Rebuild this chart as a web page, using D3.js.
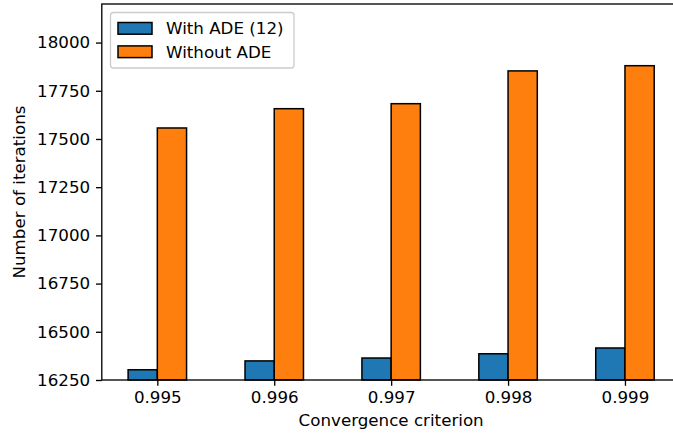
<!DOCTYPE html>
<html>
<head>
<meta charset="utf-8">
<script src="https://cdn.jsdelivr.net/npm/d3@7/dist/d3.min.js"></script>
<style>
  html, body { margin: 0; padding: 0; background: #fff; }
  svg { display: block; font-family: "DejaVu Sans", sans-serif; }
</style>
</head>
<body>
<svg id="chart" width="673" height="435"></svg>
<script>
// Iterations needed to converge, per convergence criterion
const criteria = ["0.995", "0.996", "0.997", "0.998", "0.999"];
const withADE = [16303, 16349, 16364, 16386, 16416];
const withoutADE = [17557, 17657, 17683, 17853, 17880];
const seriesNames = ["With ADE (12)", "Without ADE"];
const seriesColors = ["#1f77b4", "#ff7f0e"];
const yTicks = [16250, 16500, 16750, 17000, 17250, 17500, 17750, 18000];

const svg = d3.select("#chart");
const fontSize = 16.7;

const plot = { left: 101.8, right: 680.5, top: 4, bottom: 380 };
const barWidth = 0.25;

const x = d3.scaleLinear()
  .domain([-0.475, criteria.length - 1 + 0.475])
  .range([plot.left, plot.right]);
const y = d3.scaleLinear()
  .domain([16250, 18200])
  .range([plot.bottom, plot.top]);

const series = [withADE, withoutADE];

// Bars: first series left of the tick, second series right of it
series.forEach((vals, s) => {
  svg.append("g")
    .selectAll("rect")
    .data(vals)
    .join("rect")
    .attr("x", (d, i) => x(i + (s === 0 ? -barWidth : 0)))
    .attr("y", d => y(d))
    .attr("width", x(barWidth) - x(0))
    .attr("height", d => y(16250) - y(d))
    .attr("fill", seriesColors[s])
    .attr("stroke", "#000")
    .attr("stroke-width", 1.5);
});

// Axes
const xAxis = d3.axisBottom(x)
  .tickValues(d3.range(criteria.length))
  .tickFormat(i => criteria[i])
  .tickSize(5.8)
  .tickPadding(5.8)
  .tickSizeOuter(0);
const yAxis = d3.axisLeft(y)
  .tickValues(yTicks)
  .tickFormat(d3.format("d"))
  .tickSize(5.8)
  .tickPadding(5.8)
  .tickSizeOuter(0);

const gx = svg.append("g")
  .attr("transform", `translate(0,${plot.bottom})`)
  .call(xAxis);
const gy = svg.append("g")
  .attr("transform", `translate(${plot.left},0)`)
  .call(yAxis);

[gx, gy].forEach(g => {
  g.select(".domain").remove();
  g.selectAll(".tick line").attr("stroke", "#000").attr("stroke-width", 1.33);
  g.selectAll(".tick text")
    .attr("fill", "#000")
    .style("font-size", fontSize + "px")
    .style("font-family", "DejaVu Sans, sans-serif");
});

// Frame
svg.append("rect")
  .attr("x", plot.left)
  .attr("y", plot.top)
  .attr("width", plot.right - plot.left)
  .attr("height", plot.bottom - plot.top)
  .attr("fill", "none")
  .attr("stroke", "#000")
  .attr("stroke-width", 1.33);

// Axis titles
svg.append("text")
  .attr("x", (plot.left + plot.right) / 2)
  .attr("y", 426)
  .attr("text-anchor", "middle")
  .style("font-size", fontSize + "px")
  .text("Convergence criterion");

svg.append("text")
  .attr("transform", `translate(25,${(plot.top + plot.bottom) / 2}) rotate(-90)`)
  .attr("text-anchor", "middle")
  .style("font-size", fontSize + "px")
  .text("Number of iterations");

// Legend
const legend = svg.append("g");
legend.append("rect")
  .attr("x", 110.5)
  .attr("y", 12.5)
  .attr("width", 183.5)
  .attr("height", 55.5)
  .attr("rx", 3)
  .attr("fill", "#fff")
  .attr("fill-opacity", 0.8)
  .attr("stroke", "#cccccc")
  .attr("stroke-width", 1.3);

const rowY = [28.3, 51.7];
seriesNames.forEach((name, s) => {
  legend.append("rect")
    .attr("x", 118)
    .attr("y", rowY[s] - 5.8)
    .attr("width", 34)
    .attr("height", 11.7)
    .attr("fill", seriesColors[s])
    .attr("stroke", "#000")
    .attr("stroke-width", 1.5);
  legend.append("text")
    .attr("x", 166)
    .attr("y", rowY[s] + 6)
    .style("font-size", fontSize + "px")
    .text(name);
});
</script>
</body>
</html>
